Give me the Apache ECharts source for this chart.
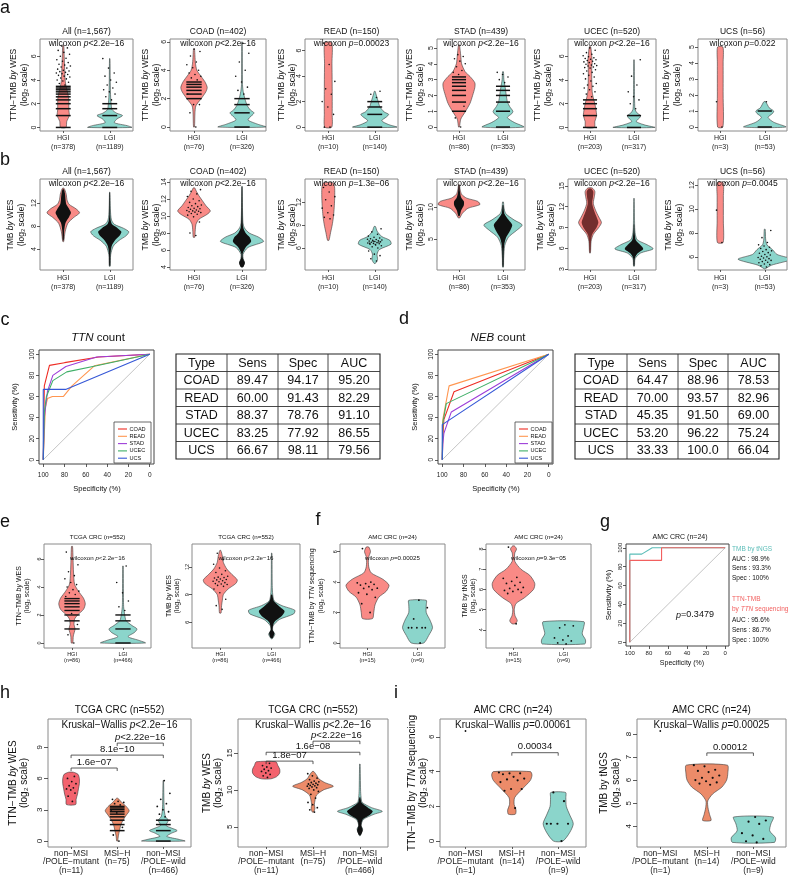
<!DOCTYPE html>
<html><head><meta charset="utf-8">
<script src="https://cdn.jsdelivr.net/npm/echarts@6/dist/echarts.min.js"></script>
<style>html,body{margin:0;padding:0;background:#fff}#c{width:794px;height:876px}</style>
</head><body><div id="c"></div>
<script>
// ================= DATA =================
// Violin profiles: [value (log2), relative half-width]; stripes/dots: values (log2)
// ---- Row a : TTN-TMB by WES
const aTitles = ['All (n=1,567)','COAD (n=402)','READ (n=150)','STAD (n=439)','UCEC (n=520)','UCS (n=56)'];
const aPvals = ['<2.2e−16','<2.2e−16','=0.00023','<2.2e−16','<2.2e−16','=0.022'];
const bPvals = ['<2.2e−16','<2.2e−16','=1.3e−06','<2.2e−16','<2.2e−16','=0.0045'];
const abN = [[378,1189],[76,326],[10,140],[86,353],[203,317],[3,53]];
const aTicks = [[0,2,4,6],[0,2,4,6],[0,2,4,6],[0,1,2,3,4,5],[0,2,4,6],[0,1,2,3,4,5]];
const bTicks = [[4,8,12],[4,6,8,10,12,14],[6,9,12],[5,10],[3,6,9,12,15],[6,8,10,12]];

const a1H = [[0,0.12],[0.5,0.15],[1,0.26],[1.5,0.24],[2,0.24],[2.5,0.23],[3,0.18],[3.5,0.12],[4,0.08],[5,0.06],[6,0.04],[6.9,0.02]];
const a1L = [[0,0.95],[0.15,0.75],[0.4,0.2],[0.7,0.3],[1,0.55],[1.2,0.3],[1.5,0.1],[2,0.06],[2.5,0.04],[3,0.03],[4,0.02],[5.8,0.01]];
const a2H = [[0,0.02],[1,0.04],[1.5,0.08],[2,0.3],[2.5,0.5],[2.8,0.55],[3.2,0.45],[3.6,0.28],[4,0.12],[4.5,0.06],[5,0.04],[5.5,0.02]];
const a2L = [[0,1.0],[0.2,0.65],[0.5,0.25],[0.8,0.4],[1,0.5],[1.2,0.35],[1.5,0.22],[2,0.12],[2.5,0.05],[3,0.02],[6,0.01]];
const a3H = [[0,0.15],[1,0.17],[3,0.17],[5,0.16],[6.6,0.15]];
const a3L = [[0,0.95],[0.2,0.6],[0.5,0.3],[0.8,0.5],[1,0.6],[1.2,0.4],[1.6,0.22],[2,0.15],[2.3,0.1],[2.6,0.05],[2.8,0.02]];
const a4H = [[0,0.02],[0.5,0.08],[1,0.3],[1.5,0.5],[2,0.62],[2.5,0.72],[2.8,0.72],[3.2,0.5],[3.5,0.28],[4,0.12],[4.5,0.08],[5.2,0.02]];
const a4L = [[0,0.95],[0.3,0.5],[0.6,0.2],[0.85,0.4],[1,0.45],[1.3,0.3],[1.6,0.2],[2,0.15],[2.5,0.1],[3,0.04],[3.5,0.02]];
const a5H = [[0,0.2],[0.5,0.22],[1,0.3],[1.5,0.27],[2,0.22],[2.5,0.15],[3,0.1],[4,0.08],[5,0.08],[5.5,0.1],[6,0.08],[6.8,0.03]];
const a5L = [[0,0.95],[0.2,0.5],[0.5,0.1],[0.8,0.25],[1,0.3],[1.2,0.15],[1.5,0.05],[2,0.03],[3,0.02],[5.7,0.01]];
const a6H = [[0,0.12],[2,0.13],[4,0.13],[5,0.12]];
const a6L = [[0,0.95],[0.3,0.4],[0.6,0.15],[0.85,0.35],[1,0.4],[1.2,0.2],[1.58,0.04]];
const a1Hs = [0,1,1.58,2,2.32,2.58,2.81,3,3.17,3.32,3.46], a1Ls = [0,1,1.58,2];
const a2Hs = [2,2.32,2.58,2.81,3,3.17], a2Ls = [0,1,1.58,2];
const a3Hs = [], a3Ls = [0,1,1.58,2];
const a4Hs = [1,1.58,2,2.32,2.58,2.81,3,3.17], a4Ls = [0,1,1.58,2,2.32,2.58];
const a5Hs = [0,1,1.58,2,2.32], a5Ls = [0,1];
const a6Hs = [], a6Ls = [0,1];
const a1Hd = [3.58,3.7,3.81,3.91,4,4.09,4.17,4.25,4.32,4.39,4.46,4.52,4.58,4.64,4.7,4.75,4.81,4.91,5,5.09,5.17,5.25,5.32,5.46,5.58,5.7,5.83,6,6.17,6.32,6.49,6.7,6.86];
const a1Ld = [2.32,2.58,2.81,3,3.17,3.32,3.58,3.81,4,4.32,4.58,5,5.8];
const a2Hd = [0,1,1.58,1.58,2.32,3.32,3.46,3.58,3.7,3.81,4,4.17,4.39,4.58,5,5.32,5.49];
const a2Ld = [2.32,2.58,2.81,3.17,3.58,4,4.58,5.2,5.9];
const a3Hd = [0,0,1,1.58,2,2.58,3,3.58,4.91,6.58];
const a3Ld = [2.32,2.58,2.81];
const a4Hd = [0,0.58,1.32,3.32,3.46,3.58,3.81,4,4.17,4.32,4.46,4.58,5.09];
const a4Ld = [2.81,3,3.17,3.32,3.46];
const a5Hd = [2.58,2.81,3,3.17,3.32,3.46,3.58,3.7,3.91,4.09,4.25,4.39,4.52,4.64,4.75,4.86,5,5.04,5.09,5.17,5.21,5.25,5.32,5.36,5.46,5.52,5.58,5.64,5.7,5.75,5.81,5.86,5.95,6.04,6.17,6.3,6.5,6.7];
const a5Ld = [1.58,2,2.32,2.58,3,3.58,4.32,5.7];
const a6Hd = [0,1.58,5];
const a6Ld = [1.58];

// ---- Row b : TMB by WES  (outer profile, dense-point core profile, dots)
const b1H = [[5.3,0.02],[7,0.08],[8.5,0.2],[9.5,0.45],[10.3,0.7],[11,0.55],[11.8,0.25],[12.6,0.16],[13.5,0.13],[14.2,0.08],[14.6,0.03]];
const b1Hc = [[5.5,0.02],[7.2,0.04],[8.6,0.1],[9.6,0.25],[10.3,0.33],[11,0.25],[11.8,0.13],[12.6,0.1],[13.5,0.08],[14.4,0.03]];
const b1L = [[1.0,0.02],[3,0.04],[4.5,0.15],[5.5,0.4],[6.3,0.7],[7,0.82],[7.6,0.6],[8.3,0.2],[9,0.08],[10,0.04],[12,0.02],[13.9,0.01]];
const b1Lc = [[1.1,0.02],[3,0.03],[4.5,0.08],[5.5,0.22],[6.3,0.42],[7,0.5],[7.6,0.35],[8.3,0.1],[9,0.04],[10,0.02],[13.8,0.01]];
const b2H = [[7.5,0.03],[8.2,0.05],[9,0.08],[9.6,0.2],[10.2,0.55],[10.6,0.68],[11.2,0.5],[11.8,0.35],[12.4,0.2],[12.9,0.1],[13.3,0.03]];
const b2Hd = [7.7,8.0,9.3,9.9,10.1,10.2,10.3,10.4,10.45,10.5,10.55,10.6,10.65,10.7,10.8,10.85,10.9,11.0,11.1,11.2,11.3,11.45,11.6,11.8,12.0,12.3,12.6,12.9,13.1];
const b2L = [[4.0,0.03],[4.5,0.1],[5.0,0.05],[5.5,0.04],[6.3,0.25],[7.0,0.9],[7.5,0.7],[8.0,0.3],[8.6,0.1],[9.2,0.04],[11,0.02],[13.5,0.01]];
const b2Lc = [[4.0,0.05],[4.5,0.12],[5.0,0.04],[5.6,0.03],[6.3,0.15],[7.0,0.38],[7.5,0.32],[8.0,0.15],[8.8,0.04],[13.4,0.01]];
const b3H = [[7.0,0.03],[8,0.1],[9,0.17],[10,0.22],[11,0.25],[12,0.27],[13,0.28],[14,0.27],[14.5,0.2]];
const b3Hd = [9.8,10.0,10.3,10.6,11.2,11.5,12.3,12.7,13.3,13.9];
const b3L = [[4.0,0.03],[4.5,0.12],[5.2,0.1],[5.8,0.2],[6.5,0.7],[7.0,0.65],[7.5,0.3],[8.2,0.1],[8.8,0.03]];
const b3Ld = [4.3,4.6,5.0,5.2,5.6,6.0,6.15,6.3,6.4,6.5,6.55,6.6,6.65,6.7,6.75,6.8,6.85,6.9,6.95,7.0,7.05,7.1,7.2,7.3,7.4,7.55,7.8,8.1,8.5,6.45,6.62,6.78,6.88,7.15];
const b4H = [[8.3,0.03],[9,0.15],[9.8,0.4],[10.4,0.95],[10.9,0.85],[11.4,0.35],[12,0.12],[12.8,0.05],[13.5,0.02]];
const b4Hc = [[8.6,0.03],[9.5,0.1],[10.3,0.22],[10.9,0.22],[11.5,0.1],[12.5,0.04],[13.4,0.02]];
const b4L = [[0.6,0.02],[2,0.03],[4,0.08],[5.3,0.25],[6.3,0.6],[7.2,0.87],[8,0.5],[9,0.12],[10,0.04],[10.8,0.02]];
const b4Lc = [[0.7,0.02],[2,0.03],[4,0.05],[5.3,0.15],[6.3,0.32],[7.2,0.42],[8,0.25],[9,0.06],[10.3,0.02]];
const b5H = [[5.3,0.02],[7,0.05],[8,0.15],[9,0.4],[9.7,0.52],[10.5,0.4],[11.5,0.25],[12.5,0.15],[13.5,0.2],[14.2,0.22],[14.7,0.1]];
const b5Hc = [[5.5,0.02],[7,0.04],[8,0.1],[9,0.3],[9.7,0.38],[10.5,0.3],[11.5,0.18],[12.5,0.1],[13.5,0.14],[14.2,0.15],[14.6,0.06]];
const b5L = [[3.4,0.02],[4.5,0.05],[5.3,0.3],[5.9,0.87],[6.5,0.6],[7.2,0.15],[8,0.06],[9,0.03],[13.2,0.01]];
const b5Lc = [[3.5,0.02],[4.6,0.04],[5.3,0.18],[5.9,0.42],[6.5,0.28],[7.2,0.08],[8.2,0.03],[9.5,0.01]];
const b6H = [[7.2,0.13],[9,0.14],[11,0.14],[12.2,0.13]];
const b6Hd = [7.2,9.9,12.2];
const b6L = [[5.0,0.02],[5.3,0.3],[5.8,1.2],[6.2,0.55],[6.6,0.35],[7.0,0.1],[7.5,0.04],[8.3,0.02]];
const b6Ld = [5.15,5.25,5.35,5.4,5.5,5.55,5.6,5.7,5.72,5.8,5.85,5.9,5.95,6.0,6.05,6.15,6.2,6.3,6.35,6.45,6.5,6.6,6.7,6.8,6.9,7.0,7.2,7.6,8.2];

// ---- ROC (c, d): [specificity %, sensitivity %]
const rocTypes = ['COAD','READ','STAD','UCEC','UCS'];
const cCOAD = [[100,0],[99,70],[94.17,89.47],[80,92],[48,97.3],[0,100]];
const cREAD = [[100,0],[98,50],[96,58],[91.43,60],[81,60],[73,70],[52,89],[0,100]];
const cSTAD = [[100,0],[99,40],[96,65],[91,80],[78.76,88.37],[50,97.3],[0,100]];
const cUCEC = [[100,0],[99,45],[97,60],[91,75],[77.92,83.25],[50,89],[0,100]];
const cUCS  = [[100,0],[100,66.67],[98.11,66.67],[79,66.67],[0,100]];
const dCOAD = [[100,0],[99.5,20],[98.5,38],[88.96,64.47],[0,100]];
const dREAD = [[100,0],[99.5,38],[93.57,70],[0,100]];
const dSTAD = [[100,0],[99.5,15],[98.5,25],[91.5,45.35],[0,100]];
const dUCEC = [[100,0],[99.5,35],[96.22,53.2],[0,100]];
const dUCS  = [[100,0],[100,33.33],[0,100]];
const rocDiag = [[100,0],[0,100]];
const rocTicks = [0,20,40,60,80,100];
const tableHeader = ['Type','Sens','Spec','AUC'];
const cTable = [['COAD','89.47','94.17','95.20'],['READ','60.00','91.43','82.29'],['STAD','88.37','78.76','91.10'],['UCEC','83.25','77.92','86.55'],['UCS','66.67','98.11','79.56']];
const dTable = [['COAD','64.47','88.96','78.53'],['READ','70.00','93.57','82.96'],['STAD','45.35','91.50','69.00'],['UCEC','53.20','96.22','75.24'],['UCS','33.33','100.0','66.04']];

// ---- e : TCGA CRC
const e1H = [[0,0.03],[0.5,0.05],[1,0.12],[1.3,0.08],[1.7,0.1],[2,0.22],[2.4,0.45],[2.8,0.52],[3.2,0.45],[3.7,0.25],[4.2,0.1],[5,0.06],[6,0.04],[6.9,0.02]];
const e1Hs = [1,1.58,2,2.32,2.58,2.81,3,3.17];
const e1Hd = [0,0.58,1.32,2.1,3.32,3.46,3.58,3.7,3.81,4,4.17,4.32,4.58,4.81,5.09,5.58,6.0,6.49];
const e1L = [[0,0.88],[0.2,0.6],[0.45,0.2],[0.75,0.45],[1,0.55],[1.25,0.35],[1.6,0.12],[2,0.07],[2.5,0.03],[3,0.02],[5.5,0.01]];
const e1Ls = [0,1,1.58,2];
const e1Ld = [2.32,2.58,3,3.58,4.32,5.5];
const e2H = [[7,0.03],[7.8,0.05],[8.4,0.08],[9,0.12],[9.6,0.3],[10.2,0.6],[10.6,0.66],[11.2,0.45],[11.8,0.25],[12.5,0.12],[13.2,0.08],[13.8,0.02]];
const e2Hd = [7.4,7.8,8.5,9.2,9.6,9.9,10.0,10.1,10.15,10.2,10.3,10.4,10.45,10.5,10.6,10.65,10.7,10.8,10.85,10.9,11.0,11.2,11.4,11.6,11.9,12.3,12.8,13.5];
const e2L = [[4.2,0.02],[4.7,0.12],[5.1,0.04],[5.6,0.05],[6.3,0.3],[6.9,0.85],[7.3,0.9],[7.8,0.4],[8.3,0.1],[9,0.04],[10,0.02],[13.5,0.01]];
const e2Lc = [[4.3,0.04],[4.8,0.1],[5.2,0.03],[6,0.1],[6.7,0.4],[7.2,0.5],[7.7,0.3],[8.3,0.08],[9,0.02]];
// ---- f : AMC CRC
const f1H = [[1.6,0.2],[2,0.25],[2.5,0.3],[3,0.45],[3.4,0.75],[3.8,0.86],[4.2,0.6],[4.6,0.15],[5,0.05],[5.6,0.04],[6,0.12],[6.3,0.05]];
const f1Hd = [2.0,2.58,3.0,3.2,3.3,3.5,3.58,3.6,3.7,3.8,3.85,3.9,3.95,4.0,6.2];
const f1L = [[0,0.25],[0.5,0.45],[1,0.6],[1.5,0.5],[2,0.35],[2.5,0.35],[2.8,0.35]];
const f1Ld = [0,1,1,1,1,1,1.58,2.32,2.81];
const f2H = [[4.3,0.06],[4.45,0.15],[4.7,0.06],[5,0.03],[5.3,0.1],[5.6,0.45],[6,0.8],[6.3,0.85],[6.7,0.65],[7,0.3],[7.4,0.05],[7.8,0.05],[8,0.12],[8.15,0.04]];
const f2Hd = [4.3,5.8,5.85,5.9,5.95,6.0,6.05,6.1,6.2,6.3,6.35,6.4,6.55,6.6,8.1];
const f2L = [[3.3,0.85],[3.5,0.88],[3.8,0.75],[4.1,0.8],[4.4,0.82]];
const f2Ld = [3.3,3.35,3.45,3.5,3.6,3.7,4.1,4.2,4.25];
// ---- g : ROC AMC CRC
const gTNGS = [[100,0],[100,93.3],[87.5,93.3],[76.5,100],[0,100]];
const gTTN  = [[100,0],[100,86.7],[66.7,86.7],[66.7,100],[0,100]];
const gLegTNGS = ['AUC : 98.9%','Sens : 93.3%','Spec : 100%'];
const gLegTTN  = ['AUC : 95.6%','Sens : 86.7%','Spec : 100%'];
// ---- h : TCGA CRC by MSI/POLE
const hLabels = ['non−MSI\n/POLE−mutant\n(n=11)','MSI−H\n(n=75)','non−MSI\n/POLE−wild\n(n=466)'];
const iLabels = ['non−MSI\n/POLE−mutant\n(n=1)','MSI−H\n(n=14)','non−MSI\n/POLE−wild\n(n=9)'];
const h1M = [[3.5,0.2],[4,0.22],[4.5,0.28],[5,0.32],[5.5,0.36],[6,0.36],[6.4,0.3],[6.6,0.1]];
const h1Md = [3.8,4.3,4.6,4.9,5.0,5.1,5.3,5.5,5.7,6.0,6.2];
const h1O = [[0,0.02],[0.5,0.05],[1,0.1],[1.5,0.15],[2,0.25],[2.5,0.4],[2.9,0.52],[3.3,0.4],[3.7,0.2],[4.1,0.03]];
const h1Os = [1,1.58,2,2.32,2.58,2.81,3,3.17,3.32];
const h1Od = [0,0.58,1.32,2.7,2.9,3.46,3.58,3.7,3.81,4.0];
const h1W = [[0,0.94],[0.15,0.7],[0.45,0.15],[0.75,0.35],[1,0.6],[1.25,0.35],[1.5,0.12],[2,0.22],[2.3,0.1],[2.8,0.05],[3.5,0.03],[5.8,0.01]];
const h1Ws = [0,1,1.58,2];
const h1Wd = [2.32,2.58,2.81,3,3.32,3.58,4,4.58,5.8];
const h1Br = [[2,3,'*p*<2.22e−16'],[1,3,'8.1e−10'],[1,2,'1.6e−07']];
const h2M = [[11.5,0.2],[11.8,0.45],[12.3,0.58],[12.8,0.58],[13.3,0.5],[13.8,0.42]];
const h2Md = [11.7,11.9,12.1,12.3,12.5,12.6,12.8,12.95,13.1,13.3,13.6];
const h2O = [[7,0.03],[7.5,0.08],[8,0.06],[8.5,0.08],[9.3,0.15],[10,0.45],[10.5,0.87],[11,0.5],[11.5,0.25],[12,0.15],[12.5,0.03]];
const h2Od = [7.0,7.3,7.6,8.0,8.3,8.9,9.4,9.8,10.0,10.2,10.3,10.4,10.5,10.55,10.6,10.7,10.75,10.8,10.9,11.0,11.1,11.2,11.4,11.6,11.9,12.2];
const h2W = [[3.8,0.02],[4.3,0.08],[4.7,0.12],[5.2,0.05],[6,0.15],[6.7,0.6],[7.1,0.96],[7.6,0.5],[8.3,0.1],[9,0.05],[10,0.03],[13.5,0.01]];
const h2Wc = [[3.9,0.04],[4.5,0.12],[5.2,0.06],[6,0.12],[6.6,0.42],[7.1,0.55],[7.6,0.35],[8.3,0.07],[9,0.02]];
const h2Br = [[2,3,'*p*<2.22e−16'],[1,3,'1.6e−08'],[1,2,'1.8e−07']];
// ---- i : AMC CRC by MSI/POLE
const i1Md = [6.34];
const i1O = [[1.55,0.15],[1.8,0.18],[2.1,0.1],[2.5,0.12],[3,0.45],[3.5,0.8],[3.8,0.87],[4,0.8]];
const i1Od = [1.9,2.9,3.0,3.0,3.4,3.5,3.55,3.6,3.7,3.85,3.9,3.9,3.95];
const i1W = [[0,0.2],[0.5,0.5],[1,0.65],[1.5,0.5],[2,0.35],[2.5,0.33],[2.8,0.32]];
const i1Wd = [0,1,1,1,1,2.3,2.8];
const i1Br = [[2,3,'0.00034']];
const i2Md = [8.13];
const i2O = [[4.25,0.18],[4.5,0.12],[4.8,0.05],[5.1,0.04],[5.4,0.25],[5.7,0.65],[6,0.85],[6.3,0.9],[6.65,0.88]];
const i2Od = [5.8,5.85,5.9,5.95,6.0,6.1,6.1,6.2,6.35,6.4,6.45,6.6,6.65];
const i2W = [[3.3,0.9],[3.5,0.95],[3.8,0.7],[4.1,0.75],[4.4,0.85]];
const i2Wd = [3.3,3.35,3.45,3.6,3.7,4.1,4.2,4.25,4.4];
const i2Br = [[2,3,'0.00012']];

// ================= STYLE / BUILD =================
const FONT = "'Liberation Sans', Arial, Helvetica, sans-serif";
const RED = '#F98A86', TEAL = '#8BD5CB', HRED = '#F3636E', HORG = '#EC8B69';
const ROCC = ['#EE2C24','#FF9650','#9D3ED8','#3FAF68','#3557D6'];
const G_TEAL = '#5BBDB8', G_RED = '#F2605F';
const grids = [], xAxes = [], yAxes = [], series = [], graphics = [];
const jit = i => ((((i + 1) * 0.6180339887) % 1) * 2 - 1);

function addPanel(o) {
  const i = grids.length;
  grids.push({left:o.left, top:o.top, width:o.width, height:o.height, show:true,
    borderColor:o.bc || '#8a8a8a', borderWidth:1, backgroundColor:'rgba(0,0,0,0)'});
  xAxes.push({gridIndex:i, type:'value', min:o.x[0], max:o.x[1], inverse:!!o.inv, position:'bottom',
    axisLine:{show:false, onZero:false}, splitLine:{show:false},
    axisTick:{show:true, length:o.xtl || 2, customValues:o.xt, lineStyle:{color:'#333', width:0.8}},
    axisLabel:{show:true, customValues:o.xt,
      formatter:(v, idx) => { if (!o.xl) return String(v); let k = o.xt.indexOf(v); if (k < 0) k = idx; return o.xl[k] || ''; },
      fontSize:o.xfs, lineHeight:o.xlh, margin:o.xm, color:'#222', fontFamily:FONT}});
  yAxes.push({gridIndex:i, type:'value', min:o.y[0], max:o.y[1], position:'left',
    axisLine:{show:false, onZero:false}, splitLine:{show:false},
    axisTick:{show:true, length:o.ytl || 3, customValues:o.yt, lineStyle:{color:'#333', width:0.8}},
    axisLabel:{show:true, customValues:o.yt, rotate:90, fontSize:o.yfs, margin:o.ym, color:'#222', fontFamily:FONT,
      formatter:v => String(v)}});
  return i;
}
function violin(g, xc, prof, fill, stroke, lw) {
  if (!prof || !prof.length) return;
  series.push({type:'custom', xAxisIndex:g, yAxisIndex:g, silent:true, clip:true,
    data: prof.map(p => [xc, p[0], p[1]]),
    renderItem: (params, api) => {
      if (params.dataIndex !== 0) return null;
      const R = [], L = [];
      for (const p of prof) { R.push(api.coord([xc + p[1] * 0.5, p[0]])); L.push(api.coord([xc - p[1] * 0.5, p[0]])); }
      return {type:'polygon', shape:{points:R.concat(L.reverse()), smooth:0.25},
        style:{fill:fill, stroke:stroke === undefined ? '#3b3b3b' : stroke, lineWidth:lw || 0.6}};
    }});
}
function stripes(g, xc, vals, J, lw) {
  if (!vals || !vals.length) return;
  series.push({type:'custom', xAxisIndex:g, yAxisIndex:g, silent:true, clip:true,
    data: vals.map(v => [xc, v]),
    renderItem: (params, api) => {
      const y = api.value(1), p1 = api.coord([xc - J, y]), p2 = api.coord([xc + J, y]);
      return {type:'line', shape:{x1:p1[0], y1:p1[1], x2:p2[0], y2:p2[1]}, style:{stroke:'#111', lineWidth:lw || 1.5}};
    }});
}
function dots(g, xc, vals, J, r) {
  if (!vals || !vals.length) return;
  series.push({type:'custom', xAxisIndex:g, yAxisIndex:g, silent:true, clip:true,
    data: vals.map(v => [xc, v]),
    renderItem: (params, api) => {
      const c = api.coord([xc + jit(params.dataIndex) * J, api.value(1)]);
      return {type:'circle', shape:{cx:c[0], cy:c[1], r:r || 0.9}, style:{fill:'#111'}};
    }});
}
function brackets(g, list, levels, fs) {
  series.push({type:'custom', xAxisIndex:g, yAxisIndex:g, silent:true, clip:false,
    data: list.map((b, k) => [b[0], b[1], levels[k]]),
    renderItem: (params, api) => {
      const k = params.dataIndex;
      const a = api.coord([api.value(0), api.value(2)]), b = api.coord([api.value(1), api.value(2)]);
      return {type:'group', children:[
        {type:'polyline', shape:{points:[[a[0], a[1] + 3], a, b, [b[0], b[1] + 3]]}, style:{stroke:'#333', lineWidth:0.8, fill:null}},
        {type:'text', x:(a[0] + b[0]) / 2, y:a[1] - 0.5, style:richStyle(list[k][2], fs, {va:'bottom'})}
      ]};
    }});
}
function rocLine(g, data, color, w) {
  series.push({type:'line', xAxisIndex:g, yAxisIndex:g, data:data, showSymbol:false, silent:true,
    lineStyle:{color:color, width:w || 1.1}, z:3});
}
function mk(s) {
  return s.split('\n').map(line => line.split('*').map((seg, k) => seg === '' ? '' : (k % 2 ? '{i|' + seg + '}' : '{n|' + seg + '}')).join('')).join('\n');
}
function richStyle(s, size, o) {
  o = o || {};
  const lh = o.lh || Math.round(size * 1.2), col = o.color || '#111';
  return {text:mk(s), fontSize:size, fontFamily:FONT, fill:col,
    rich:{n:{fontSize:size, fontFamily:FONT, fill:col, lineHeight:lh},
          i:{fontSize:size, fontFamily:FONT, fill:col, lineHeight:lh, fontStyle:'italic'}},
    align:o.align || 'center', textAlign:o.align || 'center',
    verticalAlign:o.va || 'middle', textVerticalAlign:o.va || 'middle'};
}
function T(x, y, s, size, o) {
  o = o || {};
  graphics.push({type:'text', x:x, y:y, rotation:o.rot || 0, z:100, silent:true, style:richStyle(s, size, o)});
}
function yName(x, y, s, size, lh) { T(x, y, s, size, {rot:Math.PI / 2, lh:lh}); }

// ---------- Row a & b ----------
const ABL = [40,170,305,437,568,698], ABW = [93,96,93,88,88,89];
const aY = [[-0.3,7.45],[-0.28,6.2],[-0.3,6.9],[-0.25,5.57],[-0.3,7.45],[-0.25,5.5]];
const bY = [[0.35,16.2],[3.65,14.35],[3.13,15],[0.15,14.4],[2.85,16],[4.9,12.5]];
const aNameX = [19.5,151,287,415.5,543,672];
const bNameX = [16,151,287,415.5,546.5,674];
const A = [
  [a1H,a1Hs,a1Hd,a1L,a1Ls,a1Ld],[a2H,a2Hs,a2Hd,a2L,a2Ls,a2Ld],[a3H,a3Hs,a3Hd,a3L,a3Ls,a3Ld],
  [a4H,a4Hs,a4Hd,a4L,a4Ls,a4Ld],[a5H,a5Hs,a5Hd,a5L,a5Ls,a5Ld],[a6H,a6Hs,a6Hd,a6L,a6Ls,a6Ld]];
const B = [
  [b1H,b1Hc,[],b1L,b1Lc,[]],[b2H,[],b2Hd,b2L,b2Lc,[]],[b3H,[],b3Hd,b3L,[],b3Ld],
  [b4H,b4Hc,[],b4L,b4Lc,[]],[b5H,b5Hc,[],b5L,b5Lc,[]],[b6H,[],b6Hd,b6L,[],b6Ld]];
for (let k = 0; k < 6; k++) {
  const xl = ['HGI\n(n=' + abN[k][0] + ')', 'LGI\n(n=' + abN[k][1] + ')'];
  const cx = ABL[k] + ABW[k] / 2;
  // a
  let g = addPanel({left:ABL[k], top:39, width:ABW[k], height:92, x:[0.5,2.5], y:aY[k], yt:aTicks[k], xt:[1,2], xl:xl,
    xfs:7, xlh:9, xm:3, yfs:7, ym:2});
  violin(g, 1, A[k][0], RED); stripes(g, 1, A[k][1], 0.16); dots(g, 1, A[k][2], 0.16, 0.8);
  violin(g, 2, A[k][3], TEAL); stripes(g, 2, A[k][4], 0.16); dots(g, 2, A[k][5], 0.16, 0.8);
  T(cx, 32, aTitles[k], 8.5);
  T(cx, 44, 'wilcoxon *p*' + aPvals[k], 8.5);
  yName(aNameX[k], 85, 'TTN−TMB *by* WES\n(log₂ scale)', 8.5, 11);
  // b
  g = addPanel({left:ABL[k], top:179, width:ABW[k], height:91, x:[0.5,2.5], y:bY[k], yt:bTicks[k], xt:[1,2], xl:xl,
    xfs:7, xlh:8.5, xm:4, yfs:7, ym:2});
  violin(g, 1, B[k][0], RED); violin(g, 1, B[k][1], k === 4 ? 'rgba(70,15,15,0.75)' : '#111', 'none'); dots(g, 1, B[k][2], 0.16, 0.8);
  violin(g, 2, B[k][3], TEAL); violin(g, 2, B[k][4], '#111', 'none'); dots(g, 2, B[k][5], 0.16, 0.8);
  T(cx, 172, aTitles[k], 8.5);
  T(cx, 184, 'wilcoxon *p*' + bPvals[k], 8.5);
  yName(bNameX[k], 225, 'TMB *by* WES\n(log₂ scale)', 8.5, 11);
}

// ---------- c & d : ROC + tables ----------
function rocPanel(left, lines, title, titleX, nameX, legX) {
  const g = addPanel({left:left, top:350, width:115, height:114, x:[-4,104], inv:true, y:[-4,104], bc:'#444',
    yt:rocTicks, xt:[100,80,60,40,20,0], xfs:6.5, xlh:8, xm:7, yfs:6.5, ym:3, xtl:3});
  rocLine(g, rocDiag, '#b5b5b5', 0.8);
  lines.forEach((d, k) => rocLine(g, d, ROCC[k], 1.1));
  T(titleX, 338, title, 11.5);
  yName(nameX, 407, 'Sensitivity (%)', 7.5);
  T(left + 58, 489, 'Specificity (%)', 7.5);
  graphics.push({type:'rect', shape:{x:legX, y:422, width:37, height:41}, style:{fill:'#fff', stroke:'#444', lineWidth:0.8}, z:90});
  rocTypes.forEach((t, k) => {
    const yy = 429 + k * 7.3;
    graphics.push({type:'line', shape:{x1:legX + 4, y1:yy, x2:legX + 13, y2:yy}, style:{stroke:ROCC[k], lineWidth:1.1}, z:95});
    T(legX + 15.5, yy, t, 5.6, {align:'left'});
  });
}
rocPanel(39, [cCOAD,cREAD,cSTAD,cUCEC,cUCS], '*TTN* count', 98, 15, 114);
rocPanel(438, [dCOAD,dREAD,dSTAD,dUCEC,dUCS], '*NEB* count', 498, 415, 515);
function table(xs, rows) {
  const top = 354, rh = 17.5, all = [tableHeader].concat(rows), bottom = top + rh * all.length;
  graphics.push({type:'rect', shape:{x:xs[0], y:top, width:xs[4] - xs[0], height:bottom - top}, style:{fill:'none', stroke:'#222', lineWidth:1.1}, z:90});
  for (let r = 1; r < all.length; r++)
    graphics.push({type:'line', shape:{x1:xs[0], y1:top + r * rh, x2:xs[4], y2:top + r * rh}, style:{stroke:'#333', lineWidth:0.9}, z:90});
  for (let c = 1; c < 4; c++)
    graphics.push({type:'line', shape:{x1:xs[c], y1:top, x2:xs[c], y2:bottom}, style:{stroke:'#333', lineWidth:0.9}, z:90});
  all.forEach((row, r) => row.forEach((cell, c) => T((xs[c] + xs[c + 1]) / 2, top + r * rh + rh / 2 + 0.5, cell, 12.5)));
}
table([176,227,278,328,380], cTable);
table([575,627,678,728,779], dTable);

// ---------- e ----------
let g;
g = addPanel({left:44, top:544, width:107, height:104, x:[0.45,2.55], y:[-0.36,7.07], yt:[0,2,4,6], xt:[1,2],
  xl:['HGI\n(n=86)','LGI\n(n=466)'], xfs:5.5, xlh:6, xm:3, yfs:5.5, ym:2});
violin(g, 1, e1H, RED); stripes(g, 1, e1Hs, 0.15, 1.4); dots(g, 1, e1Hd, 0.15, 0.8);
violin(g, 2, e1L, TEAL); stripes(g, 2, e1Ls, 0.15, 1.4); dots(g, 2, e1Ld, 0.15, 0.8);
T(97.5, 537, 'TCGA CRC (n=552)', 6.2); T(97.5, 558, 'wilcoxon *p*<2.2e−16', 6.2);
yName(23, 596, 'TTN−TMB *by* WES\n(log₂ scale)', 7, 8.5);
g = addPanel({left:192, top:544, width:108, height:104, x:[0.45,2.55], y:[3.2,14.5], yt:[6,9,12], xt:[1,2],
  xl:['HGI\n(n=86)','LGI\n(n=466)'], xfs:5.5, xlh:6, xm:3, yfs:5.5, ym:2});
violin(g, 1, e2H, RED); dots(g, 1, e2Hd, 0.15, 0.8);
violin(g, 2, e2L, TEAL); violin(g, 2, e2Lc, '#111', 'none');
T(246, 537, 'TCGA CRC (n=552)', 6.2); T(246, 558, 'wilcoxon *p*<2.2e−16', 6.2);
yName(173, 596, 'TMB *by* WES\n(log₂ scale)', 7, 7.5);
// ---------- f ----------
g = addPanel({left:340, top:544, width:105, height:104, x:[0.45,2.55], y:[-0.33,6.5], yt:[0,2,4,6], xt:[1,2],
  xl:['HGI\n(n=15)','LGI\n(n=9)'], xfs:5.5, xlh:6, xm:3, yfs:5.5, ym:2});
violin(g, 1, f1H, RED); dots(g, 1, f1Hd, 0.22, 0.9);
violin(g, 2, f1L, TEAL); dots(g, 2, f1Ld, 0.22, 0.9);
T(392.5, 537, 'AMC CRC (n=24)', 6.2); T(392.5, 558, 'wilcoxon *p*=0.00025', 6.2);
yName(317, 596, 'TTN−TMB by *TTN* sequencing\n(log₂ scale)', 7, 9);
g = addPanel({left:486, top:544, width:105, height:104, x:[0.45,2.55], y:[3.1,8.25], yt:[4,5,6,7,8], xt:[1,2],
  xl:['HGI\n(n=15)','LGI\n(n=9)'], xfs:5.5, xlh:6, xm:3, yfs:5.5, ym:2});
violin(g, 1, f2H, RED); dots(g, 1, f2Hd, 0.22, 0.9);
violin(g, 2, f2L, TEAL); dots(g, 2, f2Ld, 0.22, 0.9);
T(538.5, 537, 'AMC CRC (n=24)', 6.2); T(538.5, 558, 'wilcoxon *p*=9.3e−05', 6.2);
yName(469, 596, 'TMB by tNGS\n(log₂ scale)', 7, 7.5);
// ---------- g ----------
g = addPanel({left:626, top:544, width:103, height:102, x:[-4,104], inv:true, y:[-4,104], bc:'#444',
  yt:rocTicks, xt:[100,80,60,40,20,0], xfs:6, xlh:7, xm:4, yfs:6, ym:3, xtl:3});
rocLine(g, rocDiag, '#b5b5b5', 0.8);
rocLine(g, gTNGS, G_TEAL, 1.1);
rocLine(g, gTTN, G_RED, 1.1);
T(680, 537, 'AMC CRC (n=24)', 7);
yName(609, 595, 'Sensitivity (%)', 8);
T(682, 663, 'Specificity (%)', 7);
T(695, 615, '*p*=0.3479', 9);
T(732, 549, 'TMB by tNGS', 6.5, {align:'left', color:G_TEAL});
gLegTNGS.forEach((s, k) => T(732, 559 + k * 9.6, s, 6.5, {align:'left'}));
T(732, 599, 'TTN-TMB', 6.5, {align:'left', color:G_RED});
T(732, 609, 'by *TTN* sequencing', 6.5, {align:'left', color:G_RED});
gLegTTN.forEach((s, k) => T(732, 620 + k * 10, s, 6.5, {align:'left'}));
// ---------- h ----------
g = addPanel({left:48, top:719, width:143, height:128, x:[0.5,3.6], y:[-0.57,11.7], yt:[0,3,6,9], xt:[1,2,3],
  xl:hLabels, xfs:8.5, xlh:8.6, xm:2, yfs:8, ym:4, ytl:4});
violin(g, 1, h1M, HRED); dots(g, 1, h1Md, 0.12, 0.9);
violin(g, 2, h1O, HORG); stripes(g, 2, h1Os, 0.16, 1.5); dots(g, 2, h1Od, 0.16, 0.9);
violin(g, 3, h1W, TEAL); stripes(g, 3, h1Ws, 0.16, 1.5); dots(g, 3, h1Wd, 0.16, 0.9);
brackets(g, h1Br, [9.39,8.24,7.0], 9.5);
T(119.5, 710, 'TCGA CRC (n=552)', 10); T(119.5, 725, 'Kruskal−Wallis *p*<2.2e−16', 10);
yName(18.5, 783, 'TTN−TMB *by* WES\n(log₂ scale)', 10, 11.5);
g = addPanel({left:238, top:719, width:150, height:128, x:[0.4,3.6], y:[2.27,19.6], yt:[5,10,15], xt:[1,2,3],
  xl:hLabels, xfs:8.5, xlh:8.6, xm:2, yfs:8, ym:4, ytl:4});
violin(g, 1, h2M, HRED); dots(g, 1, h2Md, 0.12, 0.9);
violin(g, 2, h2O, HORG); dots(g, 2, h2Od, 0.13, 0.9);
violin(g, 3, h2W, TEAL); violin(g, 3, h2Wc, '#111', 'none');
brackets(g, h2Br, [16.6,15.1,13.9], 9.5);
T(313, 710, 'TCGA CRC (n=552)', 10); T(313, 725, 'Kruskal−Wallis *p*<2.2e−16', 10);
yName(212.5, 783, 'TMB *by* WES\n(log₂ scale)', 10, 11.5);
// ---------- i ----------
g = addPanel({left:440, top:719, width:146, height:128, x:[0.45,3.6], y:[-0.34,7.03], yt:[0,2,4,6], xt:[1,2,3],
  xl:iLabels, xfs:8.5, xlh:8.6, xm:2, yfs:8, ym:4, ytl:4});
dots(g, 1, i1Md, 0, 0.9);
violin(g, 2, i1O, HORG); dots(g, 2, i1Od, 0.3, 1.1);
violin(g, 3, i1W, TEAL); dots(g, 3, i1Wd, 0.3, 1.1);
brackets(g, i1Br, [5.09], 9.5);
T(513, 710, 'AMC CRC (n=24)', 10); T(513, 725, 'Kruskal−Wallis *p*=0.00061', 10);
yName(417.5, 783, 'TTN−TMB by *TTN* sequencing\n(log₂ scale)', 10, 11.5);
g = addPanel({left:637, top:719, width:149, height:128, x:[0.5,3.7], y:[3.1,8.65], yt:[4,5,6,7,8], xt:[1,2,3],
  xl:iLabels, xfs:8.5, xlh:8.6, xm:2, yfs:8, ym:4, ytl:4});
dots(g, 1, i2Md, 0, 0.9);
violin(g, 2, i2O, HORG); dots(g, 2, i2Od, 0.3, 1.1);
violin(g, 3, i2W, TEAL); dots(g, 3, i2Wd, 0.3, 1.1);
brackets(g, i2Br, [7.18], 9.5);
T(711.5, 710, 'AMC CRC (n=24)', 10); T(711.5, 725, 'Kruskal−Wallis *p*=0.00025', 10);
yName(610, 783, 'TMB by tNGS\n(log₂ scale)', 10, 11.5);

// ---------- panel letters ----------
[['a',5,8],['b',5,160],['c',5,320],['d',404,319],['e',5,522],['f',318,520],['g',605,522],['h',5,693],['i',396,693]]
  .forEach(l => T(l[1], l[2], l[0], 18));

const chart = echarts.init(document.getElementById('c'), null, {renderer:'canvas'});
chart.setOption({animation:false, backgroundColor:'#fff', grid:grids, xAxis:xAxes, yAxis:yAxes, series:series, graphic:graphics});
</script></body></html>
